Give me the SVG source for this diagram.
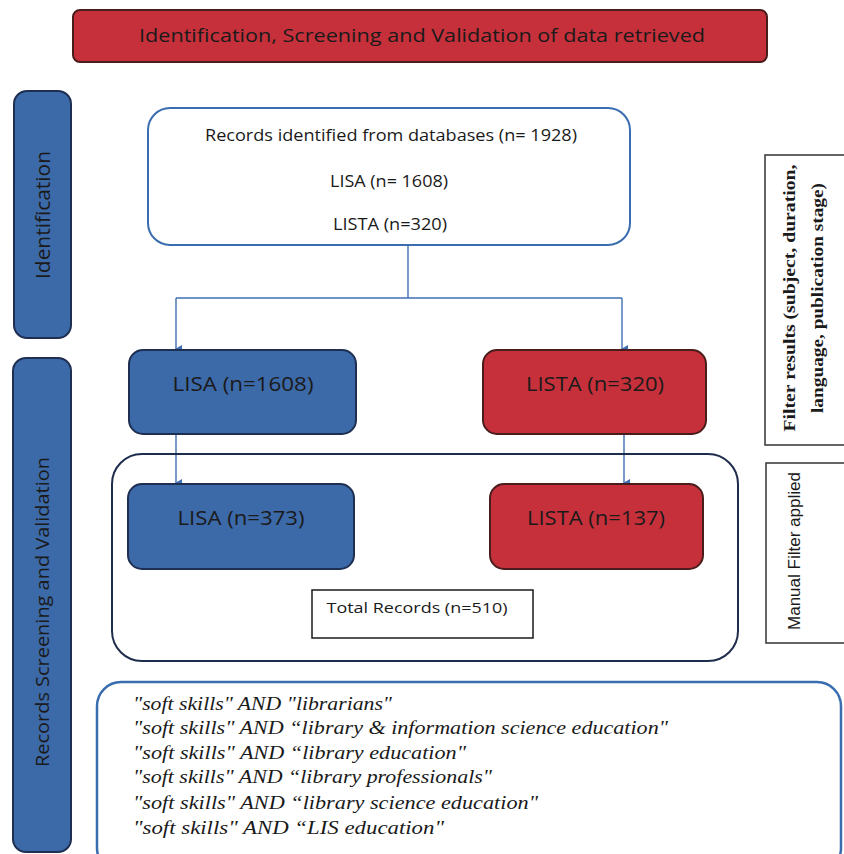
<svg xmlns="http://www.w3.org/2000/svg" width="844" height="854" viewBox="0 0 844 854">
<defs>
<marker id="ah" markerWidth="8" markerHeight="8" refX="4" refY="6" orient="auto-start-reverse" markerUnits="userSpaceOnUse" viewBox="0 0 8 8">
<path d="M0,0 L8,0 L4,7 Z" fill="#3f6fb5"/>
</marker>
</defs>
<style>
.sans{font-family:"Open Sans","Liberation Sans",sans-serif;fill:#1a1a1a}
.blue{fill:#3c69a8;stroke:#1f2f52;stroke-width:2}
.red{fill:#c6303a;stroke:#4a1c1c;stroke-width:2}
.conn{stroke:#3f6fb5;stroke-width:1.4;fill:none}
.ital{font-family:"Liberation Serif",serif;font-style:italic;font-size:18px;fill:#1a1a1a}
</style>
<rect width="844" height="854" fill="#ffffff"/>

<g id="banner">
<rect x="73" y="10" width="694" height="52" rx="7" class="red"/>
<text x="422" y="42" text-anchor="middle" class="sans" font-size="18" textLength="566" lengthAdjust="spacingAndGlyphs">Identification, Screening and Validation of data retrieved</text>
</g>

<g id="side-identification">
<rect x="14" y="91" width="57" height="247" rx="13" class="blue"/>
<text transform="translate(50,215) rotate(-90)" text-anchor="middle" class="sans" font-size="20" textLength="128" lengthAdjust="spacingAndGlyphs">Identification</text>
</g>

<g id="side-screening">
<rect x="13" y="358" width="58" height="494" rx="13" class="blue"/>
<text transform="translate(49,612) rotate(-90)" text-anchor="middle" class="sans" font-size="19" textLength="310" lengthAdjust="spacingAndGlyphs">Records Screening and Validation</text>
</g>

<g id="records-identified">
<rect x="148" y="108" width="482" height="137" rx="22" fill="#ffffff" stroke="#3a6db0" stroke-width="2"/>
<text x="391" y="141" text-anchor="middle" class="sans" font-size="16" textLength="372" lengthAdjust="spacingAndGlyphs">Records identified  from databases (n= 1928)</text>
<text x="389" y="187" text-anchor="middle" class="sans" font-size="16" textLength="118" lengthAdjust="spacingAndGlyphs">LISA (n= 1608)</text>
<text x="390" y="230" text-anchor="middle" class="sans" font-size="16" textLength="114" lengthAdjust="spacingAndGlyphs">LISTA (n=320)</text>
</g>

<g id="connectors">
<path d="M408,245 V298" class="conn"/>
<path d="M176,298 H622" class="conn"/>
<path d="M176,298 V349" class="conn" marker-end="url(#ah)"/>
<path d="M622,298 V349" class="conn" marker-end="url(#ah)"/>
<path d="M176,435 V483" class="conn" marker-end="url(#ah)"/>
<path d="M624,435 V483" class="conn" marker-end="url(#ah)"/>
</g>

<g id="lisa-1608">
<rect x="129" y="350" width="227" height="84" rx="14" class="blue"/>
<text x="243" y="391" text-anchor="middle" class="sans" font-size="20" textLength="141" lengthAdjust="spacingAndGlyphs">LISA (n=1608)</text>
</g>

<g id="lista-320">
<rect x="483" y="350" width="223" height="84" rx="14" class="red"/>
<text x="595" y="391" text-anchor="middle" class="sans" font-size="20" textLength="138" lengthAdjust="spacingAndGlyphs">LISTA (n=320)</text>
</g>

<g id="manual-group">
<rect x="112" y="454" width="626" height="207" rx="30" fill="none" stroke="#1f2d4d" stroke-width="2"/>
</g>

<g id="lisa-373">
<rect x="128" y="484" width="226" height="85" rx="14" class="blue"/>
<text x="241" y="525" text-anchor="middle" class="sans" font-size="20" textLength="127" lengthAdjust="spacingAndGlyphs">LISA (n=373)</text>
</g>

<g id="lista-137">
<rect x="490" y="484" width="213" height="85" rx="14" class="red"/>
<text x="596" y="525" text-anchor="middle" class="sans" font-size="20" textLength="138" lengthAdjust="spacingAndGlyphs">LISTA (n=137)</text>
</g>

<g id="total-records">
<rect x="312" y="590" width="221" height="48" fill="#ffffff" stroke="#1a1a1a" stroke-width="1.5"/>
<text x="417" y="613" text-anchor="middle" class="sans" font-size="15" textLength="181" lengthAdjust="spacingAndGlyphs">Total Records (n=510)</text>
</g>

<g id="filter-results">
<rect x="765" y="155" width="85" height="290" fill="#ffffff" stroke="#333333" stroke-width="1.5"/>
<text transform="translate(795,298) rotate(-90)" text-anchor="middle" font-family="Liberation Serif,serif" font-weight="bold" font-size="17" fill="#1a1a1a" textLength="267" lengthAdjust="spacingAndGlyphs">Filter results (subject, duration,</text>
<text transform="translate(823,298) rotate(-90)" text-anchor="middle" font-family="Liberation Serif,serif" font-weight="bold" font-size="17" fill="#1a1a1a" textLength="230" lengthAdjust="spacingAndGlyphs">language, publication stage)</text>
</g>

<g id="manual-filter">
<rect x="766" y="463" width="85" height="180" fill="#ffffff" stroke="#333333" stroke-width="1.5"/>
<text transform="translate(800,551) rotate(-90)" text-anchor="middle" font-family="Liberation Sans,sans-serif" font-size="16" fill="#1a1a1a" textLength="158" lengthAdjust="spacingAndGlyphs">Manual Filter applied</text>
</g>

<g id="search-strings">
<rect x="97" y="682" width="744" height="190" rx="24" fill="#ffffff" stroke="#3a6db0" stroke-width="2.5"/>
<text x="133" y="710" class="ital" textLength="259" lengthAdjust="spacingAndGlyphs">"soft skills" AND "librarians"</text>
<text x="133" y="734" class="ital" textLength="535" lengthAdjust="spacingAndGlyphs">"soft skills" AND “library &amp; information science education"</text>
<text x="133" y="759" class="ital" textLength="333" lengthAdjust="spacingAndGlyphs">"soft skills" AND “library education"</text>
<text x="133" y="783" class="ital" textLength="359" lengthAdjust="spacingAndGlyphs">"soft skills" AND “library professionals"</text>
<text x="133" y="809" class="ital" textLength="405" lengthAdjust="spacingAndGlyphs">"soft skills" AND “library science education"</text>
<text x="133" y="834" class="ital" textLength="311" lengthAdjust="spacingAndGlyphs">"soft skills" AND “LIS education"</text>
</g>
</svg>
